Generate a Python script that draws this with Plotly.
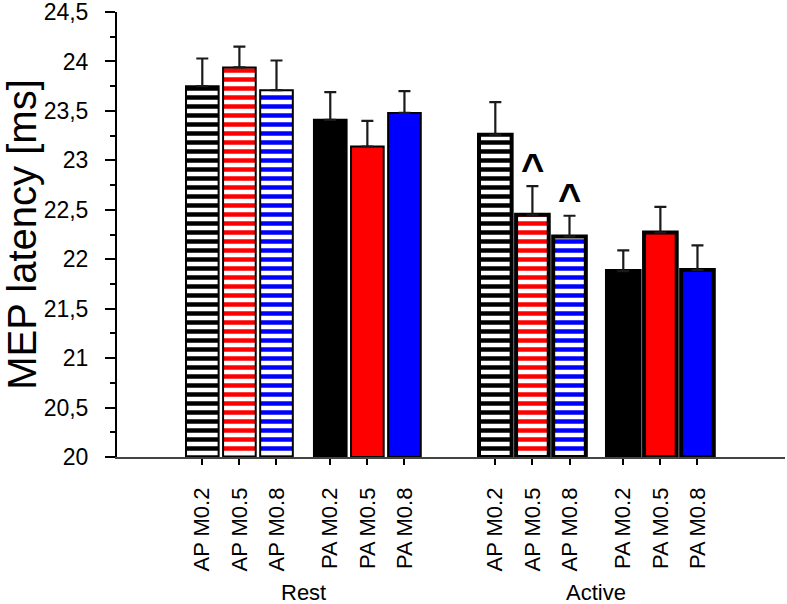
import plotly.graph_objects as go

# ---- data ----
conditions = ["Rest", "Active"]
directions = ["AP", "PA"]
intensities = ["M0.2", "M0.5", "M0.8"]
tick_labels = [f"{d} {m}" for c in conditions for d in directions for m in intensities]
latency = [23.75, 23.94, 23.71, 23.41, 23.14, 23.48,
           23.26, 22.45, 22.23, 21.88, 22.27, 21.89]
sem = [0.28, 0.21, 0.30, 0.28, 0.26, 0.22,
       0.33, 0.29, 0.21, 0.21, 0.26, 0.25]
significant = [False, False, False, False, False, False,
               False, True, True, False, False, False]

# ---- styling ----
Y_MIN, Y_MAX = 20, 24.5
intensity_colors = {"M0.2": "#000000", "M0.5": "#FF0000", "M0.8": "#0000FF"}
direction_shapes = {"AP": "-", "PA": ""}
condition_linew = {"Rest": 2, "Active": 4}
GROUP_STEP, TRIPLET_STEP = 7.9, 3.45

xs, colors, shapes, linew = [], [], [], []
for g, c in enumerate(conditions):
    for t, d in enumerate(directions):
        for i, m in enumerate(intensities):
            xs.append(g * GROUP_STEP + t * TRIPLET_STEP + i)
            colors.append(intensity_colors[m])
            shapes.append(direction_shapes[d])
            linew.append(condition_linew[c])

FONT = "Arial, Liberation Sans, sans-serif"

fig = go.Figure()
fig.add_trace(go.Bar(
    x=xs,
    y=[v - Y_MIN for v in latency],
    base=Y_MIN,
    width=0.88,
    marker=dict(
        color=colors,
        line=dict(color="black", width=linew),
        pattern=dict(shape=shapes, fillmode="replace", bgcolor="white",
                     size=9, solidity=0.5),
    ),
    error_y=dict(type="data", symmetric=False, array=sem,
                 arrayminus=[0] * len(sem), color="#1a1a1a",
                 thickness=2.2, width=6),
    cliponaxis=False,
    showlegend=False,
    hoverinfo="skip",
))

for x, v, e, s in zip(xs, latency, sem, significant):
    if s:
        fig.add_annotation(x=x, y=v + e, xref="x", yref="y", text="<b>^</b>",
                           showarrow=False, yanchor="bottom", yshift=-6,
                           font=dict(family=FONT, size=40, color="black"))

group_centers = [g * GROUP_STEP + (TRIPLET_STEP + 2) / 2 for g in range(len(conditions))]
for cx, c in zip(group_centers, conditions):
    fig.add_annotation(x=cx, y=0, xref="x", yref="paper", text=c,
                       showarrow=False, yanchor="middle", yshift=-135,
                       font=dict(family=FONT, size=22, color="black"))

fig.update_layout(
    template="none",
    width=787, height=604,
    margin=dict(l=117, r=2, t=12, b=147, autoexpand=False),
    paper_bgcolor="white", plot_bgcolor="white",
    separators=", ",
    font=dict(family=FONT, color="black"),
    xaxis=dict(
        range=[-2.30, 15.71], tickmode="array", tickvals=xs, ticktext=tick_labels,
        tickangle=-90, ticks="outside", ticklen=6, tickwidth=2, tickcolor="black",
        showline=True, linecolor="#444444", linewidth=1.5, showgrid=False,
        zeroline=False, automargin=False, ticklabelstandoff=14,
        tickfont=dict(family=FONT, size=22, color="black"),
    ),
    yaxis=dict(
        range=[Y_MIN, Y_MAX + 0.0005], tick0=Y_MIN, dtick=0.5, ticks="outside",
        ticklen=10, tickwidth=2, ticklabeloverflow="allow",
        tickcolor="black", showline=True, linecolor="black", linewidth=2,
        showgrid=False, zeroline=False, automargin=False, ticklabelstandoff=12,
        tickfont=dict(family=FONT, size=23, color="black"),
        minor=dict(dtick=0.25, ticks="outside", ticklen=5, tickwidth=2, tickcolor="black"),
        title=dict(text="MEP latency [ms]", standoff=10,
                   font=dict(family=FONT, size=40, color="black")),
    ),
)

fig.write_html("out.html", config={"displayModeBar": False},
               post_script="document.body.style.margin='0';")
